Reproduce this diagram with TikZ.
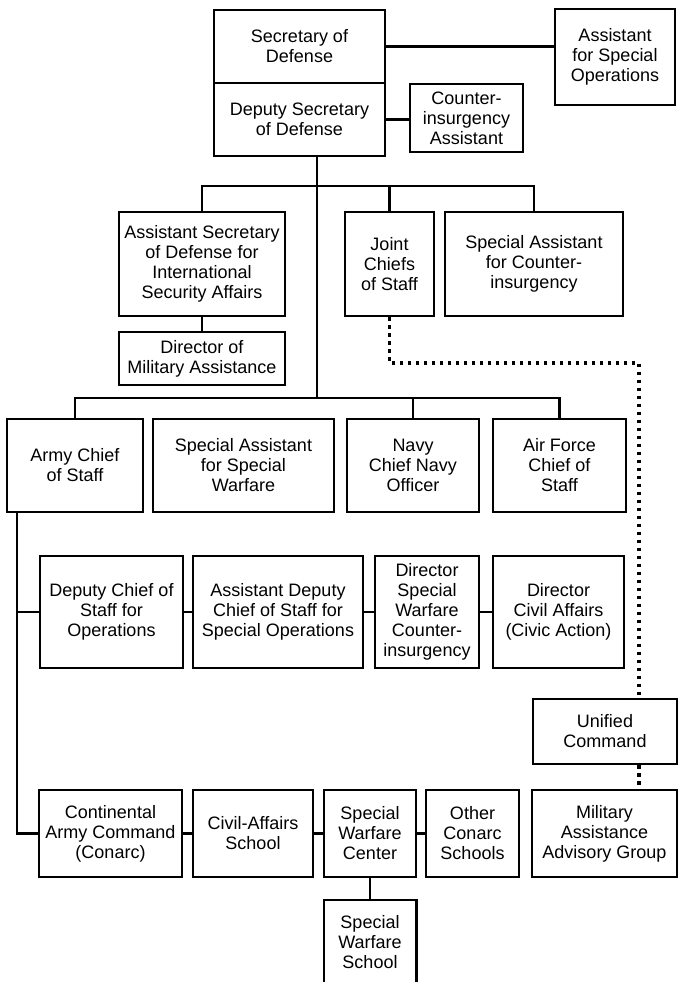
\documentclass[tikz,border=0pt]{standalone}
\usepackage{fontspec}
\setmainfont{Liberation Sans}
\begin{document}
\begin{tikzpicture}[x=1pt,y=-1pt,
  boxtext/.style={align=center, inner sep=0pt, font=\fontsize{18}{20}\selectfont},
  box/.style={boxtext, draw, line width=2.6pt},
  wh/.style 2 args={minimum width=#1pt, minimum height=#2pt},
  conn/.style={line width=2.2pt},
  dots/.style={line width=3.5pt, dash pattern=on 3.5pt off 4.5pt}]
\useasboundingbox (0,0) rectangle (678,982);
% top level
\node[box, wh={171}{73}] (sec) at (299.5,46.5) {Secretary of\\Defense};
\node[box, wh={171}{73}] (dep) at (299.5,119.5) {Deputy Secretary\\of Defense};
\node[box, wh={120}{96}] (aso) at (615,57) {Assistant\\for Special\\Operations};
\node[box, wh={113}{68}] (cia) at (466.5,118) {Counter-\\insurgency\\Assistant};
% second level
\node[box, wh={166}{104}] (asd) at (202,264) {Assistant Secretary\\of Defense for\\International\\Security Affairs};
\node[box, wh={166}{53}] (dma) at (202,358.5) {Director of\\Military Assistance};
\node[box, wh={89}{104}] (jcs) at (389.5,264) {Joint\\Chiefs\\of Staff};
\node[box, wh={178}{104}] (sac) at (534,264) {Special Assistant\\for Counter-\\insurgency};
% third level
\node[box, wh={136}{93}] (army) at (75,465.5) {Army Chief\\of Staff};
\node[box, wh={181}{93}] (sasw) at (243.5,465.5) {Special Assistant\\for Special\\Warfare};
\node[box, wh={132}{93}] (navy) at (413,465.5) {Navy\\Chief Navy\\Officer};
\node[box, wh={133}{93}] (af) at (559.5,465.5) {Air Force\\Chief of\\Staff};
% fourth level
\node[box, wh={143}{112}] (dcs) at (111.5,612) {Deputy Chief of\\Staff for\\Operations};
\node[box, wh={170}{112}] (adcs) at (278,612) {Assistant Deputy\\Chief of Staff for\\Special Operations};
\node[box, wh={104}{112}] (dswci) at (427,612) {Director\\Special\\Warfare\\Counter-\\insurgency};
\node[box, wh={131}{112}] (dca) at (558.5,612) {Director\\Civil Affairs\\(Civic Action)};
\node[box, wh={144}{65}] (uni) at (605,731.5) {Unified\\Command};
% fifth level
\node[box, wh={143}{87}] (conarc) at (110.5,833.5) {Continental\\Army Command\\(Conarc)};
\node[box, wh={120}{87}] (cas) at (253,833.5) {Civil-Affairs\\School};
\node[box, wh={92}{87}] (swc) at (370,833.5) {Special\\Warfare\\Center};
\node[box, wh={93}{87}] (ocs) at (472.5,833.5) {Other\\Conarc\\Schools};
\node[box, wh={145}{87}] (maag) at (604.5,833.5) {Military\\Assistance\\Advisory Group};
\node[boxtext, wh={92}{84}] (sws) at (370,942) {Special\\Warfare\\School};
\draw[line width=2.6pt] (sws.south west) -- (sws.north west) -- (sws.north east) -- (sws.south east);
% coordinates for trunks
\coordinate (t1) at (317,186);
\coordinate (t2) at (317,398);
\coordinate (av) at (17,512);
\coordinate (dv) at (639,363);
% connectors
\draw[conn] (sec.east) -- (sec.east -| aso.west);
\draw[conn] (dep.east) -- (dep.east -| cia.west);
\draw[conn] (dep.south -| t1) -- (t2);
\draw[conn] (asd.north) |- (sac.north |- t1) -- (sac.north);
\draw[conn] (jcs.north) -- (jcs.north |- t1);
\draw[conn] (asd.south) -- (dma.north);
\draw[conn] (army.north) |- (af.north |- t2) -- (af.north);
\draw[conn] (navy.north) -- (navy.north |- t2);
\draw[conn] (army.south -| av) -- (av |- conarc.west) -- (conarc.west);
\draw[conn] (av |- dcs.west) -- (dcs.west);
\draw[conn] (dcs.east) -- (adcs.west);
\draw[conn] (adcs.east) -- (dswci.west);
\draw[conn] (dswci.east) -- (dca.west);
\draw[conn] (conarc.east) -- (cas.west);
\draw[conn] (cas.east) -- (swc.west);
\draw[conn] (swc.east) -- (ocs.west);
\draw[conn] (swc.south) -- (sws.north);
\draw[dots] (jcs.south) |- (dv) -- (dv |- uni.north);
\draw[dots] (dv |- uni.south) -- (dv |- maag.north);
\end{tikzpicture}
\end{document}
